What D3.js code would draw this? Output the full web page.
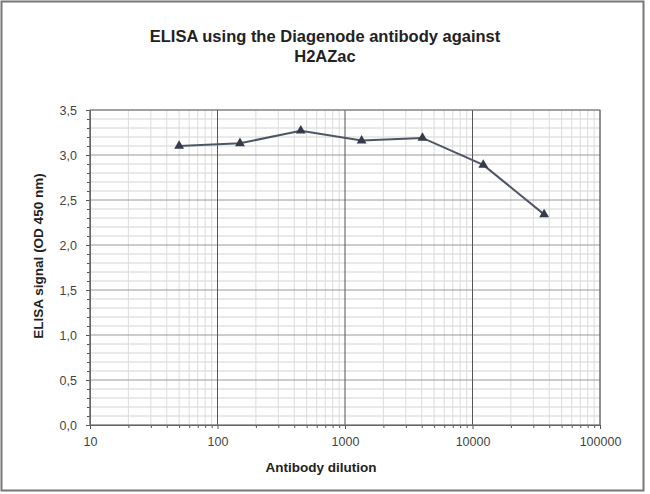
<!DOCTYPE html>
<html><head><meta charset="utf-8">
<script src="https://cdn.jsdelivr.net/npm/d3@7"></script>
<style>body{margin:0;background:#fff;} text{font-family:"Liberation Sans",Arial,sans-serif;}</style>
</head><body><svg id="c" width="650" height="494"></svg>
<script>
const dilutions = [50, 150, 450, 1350, 4050, 12150, 36450];
const signal = [3.10, 3.13, 3.27, 3.16, 3.19, 2.89, 2.34];
const yTicks = [0, 0.5, 1.0, 1.5, 2.0, 2.5, 3.0, 3.5];
const xTicks = [10, 100, 1000, 10000, 100000];
const titleLines = ["ELISA using the Diagenode antibody against", "H2AZac"];

const svg = d3.select("#c");
const L = 90, R = 600, T = 110, B = 425;
const x = d3.scaleLog().domain([10, 100000]).range([L, R]);
const y = d3.scaleLinear().domain([0, 3.5]).range([B, T]);

// frame
svg.append("rect").attr("x",1.5).attr("y",1.5).attr("width",642).attr("height",489)
  .attr("fill","none").attr("stroke","#777").attr("stroke-width",2);

// minor gridlines
const minorY = d3.range(0, 36).map(i => i/10);
svg.append("g").selectAll("line").data(minorY.filter(v => Math.round(v*10)%5 !== 0)).join("line")
  .attr("x1", L).attr("x2", R).attr("y1", d => y(d)).attr("y2", d => y(d))
  .attr("stroke", "#d4d4d4").attr("stroke-width", 1);
const minorX = [];
for (let e = 1; e < 5; e++) for (let m = 2; m <= 9; m++) minorX.push(m*Math.pow(10,e));
svg.append("g").selectAll("line").data(minorX).join("line")
  .attr("y1", T).attr("y2", B).attr("x1", d => x(d)).attr("x2", d => x(d))
  .attr("stroke", "#dcdcdc").attr("stroke-width", 1);
// major gridlines
svg.append("g").selectAll("line").data(yTicks).join("line")
  .attr("x1", L).attr("x2", R).attr("y1", d => y(d)).attr("y2", d => y(d))
  .attr("stroke", "#9a9a9a").attr("stroke-width", 1);
svg.append("g").selectAll("line").data(xTicks).join("line")
  .attr("y1", T).attr("y2", B).attr("x1", d => x(d)).attr("x2", d => x(d))
  .attr("stroke", "#555").attr("stroke-width", 1);

// axes
const yAxis = d3.axisLeft(y).tickValues(yTicks).tickFormat(d => d3.format(".1f")(d).replace(".", ",")).tickSize(4).tickPadding(9);
svg.append("g").attr("transform", `translate(${L},0)`).call(yAxis);
svg.append("g").attr("transform", `translate(${L},0)`)
  .call(d3.axisLeft(y).tickValues(minorY).tickSize(3).tickFormat(""));
svg.append("g").attr("transform", `translate(0,${B})`)
  .call(d3.axisBottom(x).tickValues(xTicks).tickFormat(d3.format("d")).tickSize(4).tickPadding(8));
svg.append("g").attr("transform", `translate(0,${B})`)
  .call(d3.axisBottom(x).tickValues(minorX).tickSize(3).tickFormat(""));
svg.selectAll(".domain").attr("stroke", "#555");
svg.selectAll(".tick line").attr("stroke", "#555");
svg.selectAll(".tick text").attr("font-size", 12.5).attr("fill", "#444")
  .style("font-family", "'Liberation Sans',Arial,sans-serif");

// plot border
svg.append("rect").attr("x", L).attr("y", T).attr("width", R-L).attr("height", B-T)
  .attr("fill","none").attr("stroke","#777");

// line
const data = dilutions.map((d,i) => ({d, v: signal[i]}));
svg.append("path").datum(data)
  .attr("d", d3.line().x(p => x(p.d)).y(p => y(p.v)))
  .attr("fill","none").attr("stroke","#4e5666").attr("stroke-width",2);
svg.append("g").selectAll("path").data(data).join("path")
  .attr("transform", p => `translate(${x(p.d)},${y(p.v)})`)
  .attr("d", d3.symbol(d3.symbolTriangle, 42))
  .attr("fill","#343b4a");

// titles
svg.append("text").attr("x", 325).attr("y", 42).attr("text-anchor","middle")
  .attr("font-size", 16.5).attr("font-weight","bold").attr("fill","#222").text(titleLines[0]);
svg.append("text").attr("x", 325).attr("y", 62).attr("text-anchor","middle")
  .attr("font-size", 16.5).attr("font-weight","bold").attr("fill","#222").text(titleLines[1]);
svg.append("text").attr("x", 321).attr("y", 472).attr("text-anchor","middle")
  .attr("font-size", 13.5).attr("font-weight","bold").attr("fill","#222").text("Antibody dilution");
svg.append("text").attr("transform","translate(43,256) rotate(-90)").attr("text-anchor","middle")
  .attr("font-size", 13.5).attr("font-weight","bold").attr("fill","#222").text("ELISA signal (OD 450 nm)");
</script></body></html>
